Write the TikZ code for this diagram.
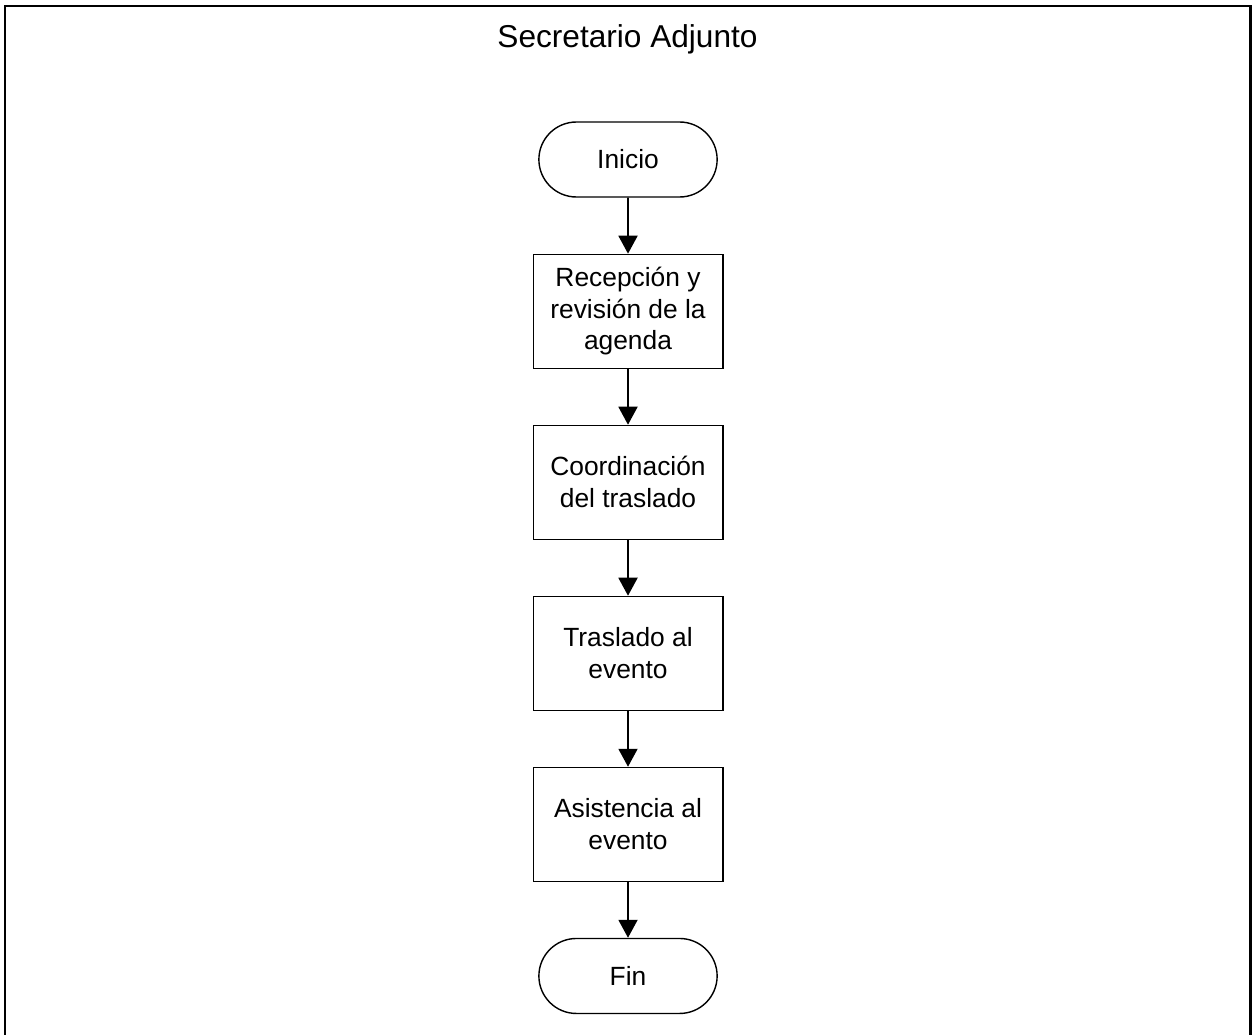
\documentclass[tikz,border=0pt]{standalone}
\usepackage{fontspec}
\setmainfont{Liberation Sans}
\usetikzlibrary{shapes,arrows.meta,positioning}

\tikzset{
  terminal/.style={draw, line width=0.8pt, rounded rectangle, minimum width=3.8cm, minimum height=1.5cm,
    font=\fontsize{15}{18}\selectfont},
  proceso/.style={draw, line width=0.6pt, rectangle, minimum width=3.8cm, minimum height=2.28cm,
    align=center, font=\fontsize{15}{18}\selectfont},
  flecha/.style={line width=1.1pt, -{Triangle[width=0.38cm,length=0.36cm]}},
}

\begin{document}
\begin{tikzpicture}[x=0.02cm, y=-0.02cm, node distance=1.12cm]
  \useasboundingbox (0,0) rectangle (1253,1034);
  % marco
  \draw[line width=1.7pt] (5,1040) -- (5,6) -- (1250.5,6) -- (1250.5,1040);
  \node[anchor=base, font=\fontsize{18}{21}\selectfont] (titulo) at (627.5,48) {Secretario Adjunto};

  \node[terminal] (inicio) at (628,159.5) {Inicio};
  \node[proceso, below=of inicio] (recepcion) {Recepción y\\revisión de la\\agenda};
  \node[proceso, below=of recepcion] (coordinacion) {Coordinación\\del traslado};
  \node[proceso, below=of coordinacion] (traslado) {Traslado al\\evento};
  \node[proceso, below=of traslado] (asistencia) {Asistencia al\\evento};
  \node[terminal, below=of asistencia] (fin) {Fin};

  \draw[flecha] (inicio) -- (recepcion);
  \draw[flecha] (recepcion) -- (coordinacion);
  \draw[flecha] (coordinacion) -- (traslado);
  \draw[flecha] (traslado) -- (asistencia);
  \draw[flecha] (asistencia) -- (fin);
\end{tikzpicture}
\end{document}
